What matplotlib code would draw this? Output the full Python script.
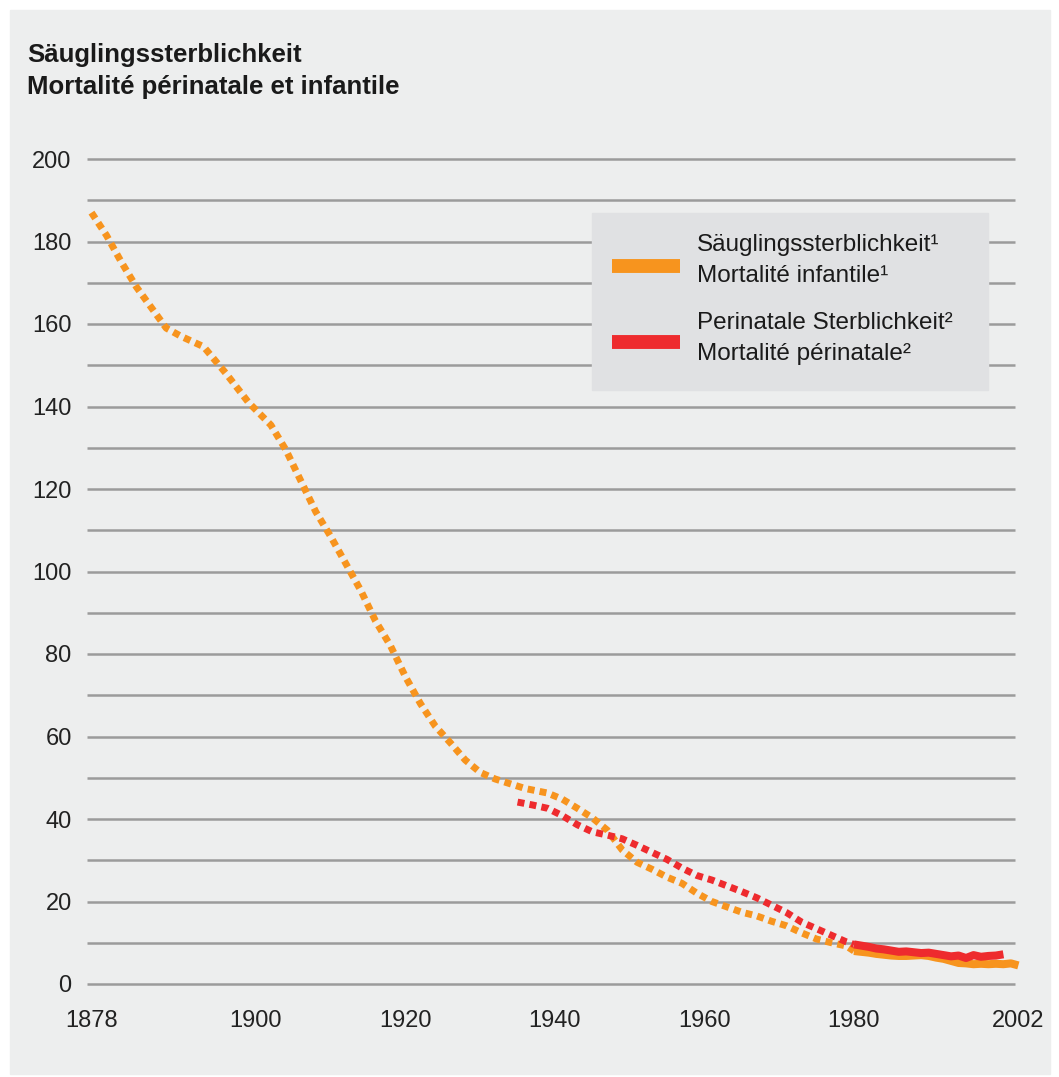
import matplotlib
matplotlib.use('Agg')
import matplotlib.pyplot as plt
import numpy as np
from matplotlib.patches import Rectangle
from matplotlib.lines import Line2D

# infant mortality (per 1000 live births)
inf_years = [1878, 1880, 1882, 1884, 1886, 1888, 1890, 1893, 1896, 1899,
             1902, 1904, 1906, 1908, 1910, 1912, 1914, 1916, 1918, 1920,
             1922, 1924, 1926, 1928, 1930, 1932, 1936, 1939, 1941, 1943,
             1945, 1947, 1949, 1951, 1953, 1955, 1957, 1959, 1961, 1963,
             1965, 1967, 1969, 1971, 1973, 1975, 1977, 1979,
             1980, 1981, 1982, 1983, 1984, 1985, 1986, 1987, 1988, 1989,
             1990, 1991, 1992, 1993, 1994, 1995, 1996, 1997, 1998, 1999,
             2000, 2001, 2002]
inf_values = [187, 181.5, 175, 169, 164, 159, 157, 154.5, 148, 141,
              135.5, 129.5, 122, 114.5, 108.5, 102, 95.5, 88, 82, 74.5,
              68, 62.5, 58.5, 54.3, 51.3, 49.7, 47.4, 46.3, 44.8, 42.6,
              40.3, 37.3, 32.5, 29.5, 27.8, 25.9, 24.4, 22.0, 20.0, 18.7,
              17.4, 16.5, 15.2, 14.1, 12.4, 10.9, 10.0, 9.2,
              8.0, 7.8, 7.6, 7.3, 7.1, 6.9, 6.8, 6.8, 6.9, 7.0,
              6.8, 6.4, 6.1, 5.6, 5.1, 5.0, 4.8, 4.9, 4.8, 4.9,
              4.8, 5.0, 4.5]

# perinatal mortality
per_years = [1935, 1937, 1939, 1941, 1943, 1945, 1947, 1949, 1951, 1953,
             1955, 1957, 1959, 1961, 1963, 1965, 1967, 1969, 1971, 1973,
             1975, 1977, 1979,
             1980, 1981, 1982, 1983, 1984, 1985, 1986, 1987, 1988, 1989,
             1990, 1991, 1992, 1993, 1994, 1995, 1996, 1997, 1998, 1999,
             2000]
per_values = [44.1, 43.4, 42.6, 40.8, 38.6, 36.9, 36.1, 35.2, 33.6, 31.9,
              30.2, 28.1, 26.3, 25.2, 23.8, 22.4, 20.9, 19.1, 17.3, 15.0,
              13.4, 11.8, 10.2,
              9.6, 9.3, 9.0, 8.6, 8.4, 8.1, 7.8, 7.9, 7.7, 7.5,
              7.6, 7.3, 7.0, 6.7, 6.9, 6.3, 7.0, 6.6, 6.8, 6.9,
              7.2]

xticks = [1878, 1900, 1920, 1940, 1960, 1980, 2002]
yticks = list(range(0, 201, 20))

ORANGE = '#F7941E'
RED = '#EE2B2E'
BG = '#EDEEEE'
BOXBG = '#E0E1E3'
GRID = '#9B9B9B'
FONT = 'Liberation Sans'

W, H = 1059, 1077
fig = plt.figure(figsize=(W / 100, H / 100), dpi=100, facecolor='white')
fig.patches.append(Rectangle((10 / W, 3 / H), 1040 / W, 1064 / H,
                             transform=fig.transFigure, color=BG, zorder=-10))

ax = fig.add_axes([87 / W, 1 - 992.25 / H, (1020.6 - 87) / W, (992.25 - 150.75) / H])
ax.set_zorder(2)
ax.set_facecolor('none')
ax.set_xlim(1877.4, 2002.3)
ax.set_ylim(-2, 202)

ax.hlines(np.arange(0, 201, 10), 1877.4, 2001.5, color=GRID, lw=1.8, zorder=1)

def draw(years, values, color):
    years = np.array(years)
    values = np.array(values)
    early = years <= 1980
    ax.plot(years[early], values[early], color=color, lw=5, ls=(0, (1.0, 0.75)),
            dash_capstyle='butt', solid_joinstyle='miter', zorder=3, clip_on=False)
    late = years >= 1980
    ax.plot(years[late], values[late], color=color, lw=5.8, solid_capstyle='butt',
            zorder=3, clip_on=False)

draw(inf_years, inf_values, ORANGE)
draw(per_years, per_values, RED)

for s in ax.spines.values():
    s.set_visible(False)
ax.set_xticks(xticks)
ax.set_xticklabels([str(x) for x in xticks])
ax.set_yticks(yticks)
ax.tick_params(length=0, labelsize=17, labelcolor='#222222')
ax.tick_params(axis='y', pad=11)
ax.tick_params(axis='x', pad=13)
for lab in ax.get_xticklabels() + ax.get_yticklabels():
    lab.set_family(FONT)

# title
fig.text(27 / W, 1 - 55 / H, 'Säuglingssterblichkeit', fontsize=18.5, fontweight='bold',
         family=FONT, va='center', ha='left', color='#1a1a1a')
fig.text(27 / W, 1 - 87 / H, 'Mortalité périnatale et infantile', fontsize=18.5,
         fontweight='bold', family=FONT, va='center', ha='left', color='#1a1a1a')

# legend box (drawn above the axes so it hides the grid lines)
legend_ax = fig.add_axes([0, 0, 1, 1], facecolor='none')
legend_ax.set_zorder(5)
legend_ax.set_axis_off()
legend_ax.set_xlim(0, W)
legend_ax.set_ylim(H, 0)
legend_ax.add_patch(Rectangle((592, 213), 988 - 592, 390 - 213, color=BOXBG))
entries = [(ORANGE, 266, ['Säuglingssterblichkeit¹', 'Mortalité infantile¹'], [245, 276]),
           (RED, 342, ['Perinatale Sterblichkeit²', 'Mortalité périnatale²'], [323, 354])]
for color, yc, labels, ys in entries:
    legend_ax.add_line(Line2D([612, 680], [yc, yc], color=color, lw=10,
                              solid_capstyle='butt'))
    for lab, yy in zip(labels, ys):
        legend_ax.text(697, yy, lab, fontsize=17.5, family=FONT, va='center',
                       ha='left', color='#1a1a1a')

fig.savefig('out.png', dpi=100, facecolor='white')
